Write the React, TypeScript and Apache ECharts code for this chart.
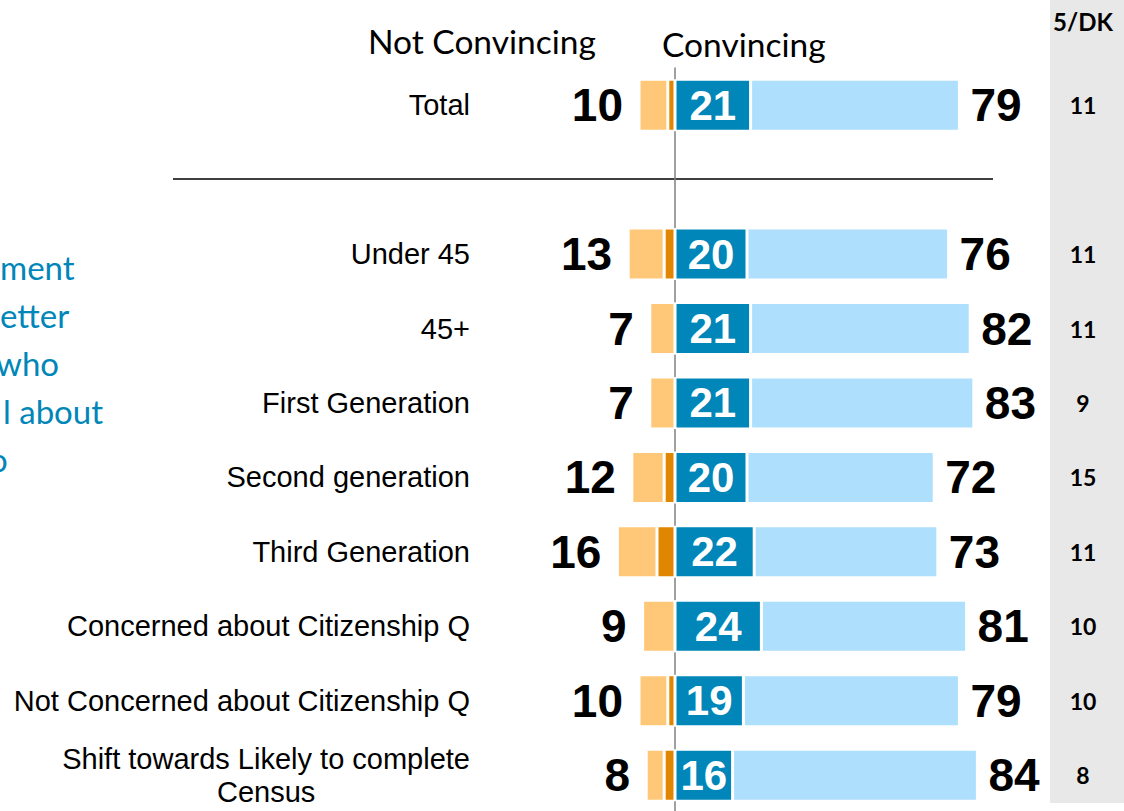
import React, { useEffect, useRef } from "react";
import * as echarts from "echarts";

const categories = [
  "Total",
  "",
  "Under 45",
  "45+",
  "First Generation",
  "Second generation",
  "Third Generation",
  "Concerned about Citizenship Q",
  "Not Concerned about Citizenship Q",
  "Shift towards Likely to complete\nCensus",
];
const notConvTotal = [10, null, 13, 7, 7, 12, 16, 9, 10, 8];
const notConvLight = [8, null, 10, 7, 7, 9, 11, 9, 8, 5];
const notConvStrong = [2, null, 3, 0, 0, 3, 5, 0, 2, 3];
const convTotal = [79, null, 76, 82, 83, 72, 73, 81, 79, 84];
const convStrong = [21, null, 20, 21, 21, 20, 22, 24, 19, 16];
const convLight = convTotal.map((t, i) => (t == null ? null : t - (convStrong[i] as number)));
const dkValues = ["11", "", "11", "11", "9", "15", "11", "10", "10", "8"];
const sideText = ["ment", "etter", "who", "l about", "o"];

const NUM_FONT = "'Liberation Sans', Arial, sans-serif";
const SANS2 = "Lato, 'Open Sans', sans-serif";

export default function App() {
  const ref = useRef<HTMLDivElement>(null);
  useEffect(() => {
    if (!ref.current) return;
    const chart = echarts.init(ref.current, undefined, { renderer: "svg" });
    const border = { borderColor: "#ffffff", borderWidth: 1.5 };
    const option: any = {
      animation: false,
      grid: { left: 567, width: 468, top: 68, height: 744.4, containLabel: false, outerBoundsMode: "none" },
      xAxis: {
        type: "value",
        min: -30,
        max: 100,
        show: false,
      },
      yAxis: [
        {
          type: "category",
          data: categories,
          inverse: true,
          axisTick: { show: false },
          axisLine: { show: true, onZero: true, lineStyle: { color: "#808080", width: 1.5 } },
          axisLabel: {
            margin: 97,
            fontSize: 29,
            color: "#000",
            fontFamily: NUM_FONT,
            align: "right",
            formatter: (v: string) => {
              if (v.indexOf("\n") >= 0) {
                const parts = v.split("\n");
                return "{a|" + parts[0] + "}\n{c|" + parts[1] + "}";
              }
              return v;
            },
            rich: {
              a: { fontSize: 29, fontFamily: NUM_FONT, color: "#000", lineHeight: 33 },
              c: { fontSize: 29, fontFamily: NUM_FONT, color: "#000", lineHeight: 33, align: "center" },
            },
          },
        },
        {
          type: "category",
          data: categories,
          inverse: true,
          position: "right",
          axisTick: { show: false },
          axisLine: { show: false },
          axisLabel: {
            margin: 48,
            align: "center",
            fontSize: 23,
            fontWeight: "bold",
            color: "#000",
            fontFamily: SANS2,
            padding: [0, 0, 12, 0],
            formatter: (_v: string, i: number) => dkValues[i],
          },
        },
      ],
      series: [
        {
          name: "Strongly not convincing",
          type: "bar",
          stack: "s",
          barWidth: 52,
          data: notConvStrong.map((v) => (v == null ? null : -v)),
          itemStyle: { color: "#E08600", ...border },
          z: 1,
        },
        {
          name: "Somewhat not convincing",
          type: "bar",
          stack: "s",
          barWidth: 52,
          data: notConvLight.map((v) => (v == null ? null : -v)),
          itemStyle: { color: "#FFC878", ...border },
          z: 1,
          label: {
            show: true,
            position: "left",
            distance: 16,
            fontSize: 46,
            fontWeight: "bold",
            color: "#000",
            fontFamily: NUM_FONT,
            formatter: (p: any) => (notConvTotal[p.dataIndex] == null ? "" : String(notConvTotal[p.dataIndex])),
          },
        },
        {
          name: "Very convincing",
          type: "bar",
          stack: "s",
          barWidth: 52,
          data: convStrong,
          itemStyle: { color: "#0086B8", ...border },
          z: 1,
          label: {
            show: true,
            position: "inside",
            fontSize: 42,
            fontWeight: "bold",
            color: "#fff",
            fontFamily: NUM_FONT,
            formatter: (p: any) => (p.value == null ? "" : String(p.value)),
          },
        },
        {
          name: "Somewhat convincing",
          type: "bar",
          stack: "s",
          barWidth: 52,
          data: convLight,
          itemStyle: { color: "#AEDFFC", ...border },
          z: 1,
          label: {
            show: true,
            position: "right",
            distance: 11,
            fontSize: 46,
            fontWeight: "bold",
            color: "#000",
            fontFamily: NUM_FONT,
            formatter: (p: any) => (convTotal[p.dataIndex] == null ? "" : String(convTotal[p.dataIndex])),
          },
        },
      ],
      graphic: [
        { type: "rect", z: -100, shape: { x: 1050, y: 0, width: 74, height: 803 }, style: { fill: "#E8E8E8" } },
        {
          type: "text",
          x: 1083,
          y: 21,
          style: { text: "5/DK", fontSize: 24, fontWeight: "bold", fontFamily: SANS2, fill: "#000", align: "center", verticalAlign: "middle" },
        },
        {
          type: "text",
          x: 368,
          y: 41,
          style: { text: "Not Convincing", fontSize: 33.5, fontFamily: SANS2, fill: "#000", align: "left", verticalAlign: "middle" },
        },
        {
          type: "text",
          x: 662,
          y: 44,
          style: { text: "Convincing", fontSize: 33.5, fontFamily: SANS2, fill: "#000", align: "left", verticalAlign: "middle" },
        },
        { type: "line", shape: { x1: 173, y1: 179, x2: 993, y2: 179 }, style: { stroke: "#000", lineWidth: 1.5 } },
        ...sideText.map((t, i) => ({
          type: "text",
          x: [0, 0, -4, 3, -11][i],
          y: 267 + i * 48,
          style: { text: t, fontSize: 33, fontFamily: SANS2, fill: "#0086B8", align: "left", verticalAlign: "middle" },
        })),
      ],
    };
    chart.setOption(option);
    return () => chart.dispose();
  }, []);
  return <div ref={ref} style={{ position: "absolute", left: 0, top: 0, width: 1124, height: 811 }} />;
}
